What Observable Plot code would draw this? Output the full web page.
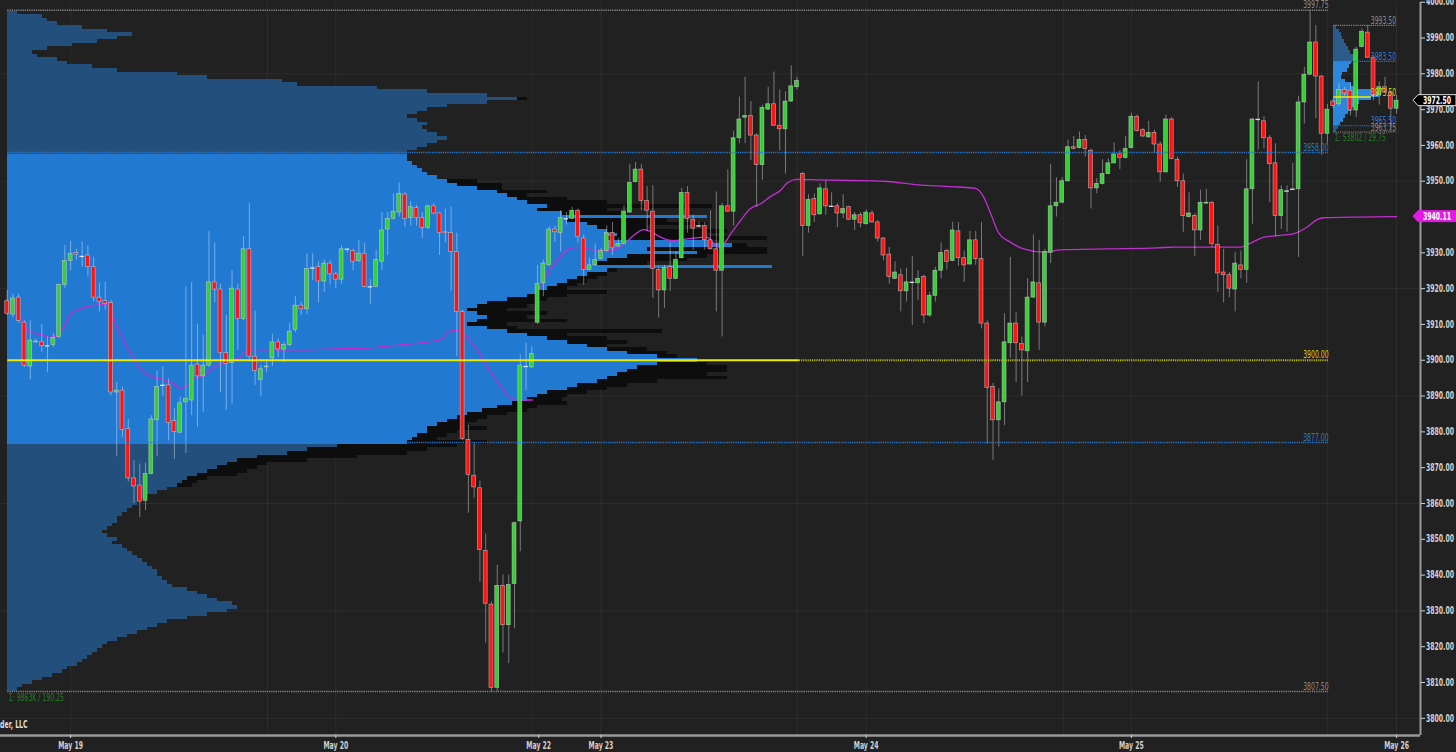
<!DOCTYPE html>
<html><head><meta charset="utf-8">
<script src="https://cdn.jsdelivr.net/npm/d3@7"></script>
<script src="https://cdn.jsdelivr.net/npm/@observablehq/plot@0.6"></script>
<style>
html,body{margin:0;padding:0;background:#212121;}
#chart{width:1456px;height:752px;overflow:hidden;}
</style></head><body><div id="chart"></div>
<script>
// ---- 30-minute candles (ES), index 0..241 ----
const openP = [3916.5,3912.75,3917.5,3910.5,3898.25,3905,3905,3904,3904.25,3906.5,3921,3927.75,3930,3929,3929.25,3926,3917.5,3916.5,3916,3891,3891.5,3880.75,3867,3865,3860.75,3868.25,3883.25,3893,3893,3883,3879.75,3888.25,3888.75,3898.75,3895.5,3898.5,3921.75,3919.75,3902,3899.25,3919.75,3911.5,3931,3901,3894.5,3898,3900.5,3905,3903,3904.25,3908.5,3915.25,3914.25,3925.75,3926,3922,3927,3924,3922.5,3931,3930.5,3927.75,3929.75,3920.5,3920.5,3927.5,3936.5,3939.5,3941.25,3946.25,3939.75,3942.5,3939.75,3937,3943,3941,3935.75,3935.5,3930.25,3913.5,3877.75,3867.75,3864.25,3846.75,3831.75,3808.5,3837,3826,3837.5,3855,3898.25,3898,3910.5,3921.5,3926.5,3936.5,3935.5,3939.5,3939.5,3941.75,3934,3925.25,3926.5,3928.25,3930.5,3935.5,3931.75,3932.5,3941.25,3949.75,3953.25,3944.5,3941.5,3925.25,3919.5,3926,3922.75,3928.5,3946.75,3939.25,3937.5,3937.5,3933.5,3931,3925,3943,3941.5,3962,3967.75,3968.25,3962.75,3954.5,3970,3971.5,3965.5,3964.5,3972.25,3976.25,3952,3937.5,3945,3940.75,3947.75,3943,3943,3941,3942.75,3939.25,3940.5,3938,3941,3938.5,3934,3929.5,3922.75,3923.75,3919.25,3921.75,3921.5,3923.25,3912.5,3918,3925,3930.5,3927.75,3936,3928.5,3926.75,3933.5,3928.25,3910.25,3892.5,3883.25,3888.25,3904.75,3910.25,3904.5,3902.5,3917.5,3921.5,3910.5,3930,3943,3944,3950,3959.5,3959.25,3961.5,3958.5,3948,3949.25,3952,3955,3957.5,3956.5,3959.25,3968,3964.25,3962.25,3963.5,3960.25,3952.5,3967.25,3956,3950,3940,3940.25,3936.25,3943.75,3944,3932.25,3924.5,3923.75,3919.75,3926.5,3925.25,3947.75,3967.25,3966.75,3962,3955,3940.25,3947.25,3947.75,3947.75,3972,3979.75,3988.75,3979.25,3963.25,3972.25,3971.5,3975.5,3975.25,3969.75,3987.5,3991.5,3984.5,3974,3976.25,3974.75,3970.25];
const highP = [3919.5,3918.5,3918.5,3911,3911,3906,3910,3906.5,3907.5,3921.25,3932,3933.25,3931,3933,3932,3928.75,3921.5,3921.75,3916.75,3893.75,3892.5,3883.5,3872,3871,3871.25,3884.5,3897,3898.25,3894.75,3886.5,3889.75,3920.5,3921.75,3910,3907,3936,3932.75,3921.25,3912.5,3925,3921.25,3934.5,3943.75,3913.75,3898.5,3900,3907.25,3906,3905,3910.25,3917.75,3916.25,3929.75,3929.75,3927.5,3928,3927.75,3924.5,3932,3931.25,3931,3933.5,3932.75,3922.5,3930.75,3941.25,3941.25,3946.5,3949.5,3946.75,3944.25,3943.25,3941.25,3943.25,3943.75,3941.25,3942.25,3942.75,3935.5,3914,3881.75,3877,3866.25,3851.5,3832.5,3842.75,3840,3840,3854.75,3901.5,3904.75,3903.75,3926.5,3928,3937.25,3937.5,3941.75,3941.25,3942.75,3942.25,3935,3928.5,3932.5,3931.25,3937.5,3938.5,3934,3943.25,3954.75,3955.25,3954.75,3948.5,3948.75,3926,3926.5,3932.75,3930.25,3948,3948.5,3940.5,3938.5,3938.5,3941.75,3947,3943.75,3953.25,3964,3973.5,3979,3972.25,3963.25,3971.25,3976.25,3980.5,3975.5,3975,3982.25,3979,3952.5,3946.25,3946.5,3949.25,3950,3946.75,3943.75,3946.25,3943,3941.25,3941.25,3942,3941.75,3939,3934.25,3931.5,3927.5,3925.5,3925.75,3929,3925,3923.75,3919,3926,3932.75,3931,3938.5,3938.5,3930.5,3936,3936,3938.5,3911,3893.5,3892,3913,3928.75,3913.25,3906.5,3922.75,3935,3933.5,3931,3954.75,3951,3951,3961.5,3962.5,3963.75,3962.75,3959,3950.75,3956,3956.25,3960.75,3958.5,3962.5,3969,3968.5,3964.75,3966.75,3964.25,3961,3968.5,3967.75,3956.75,3952,3946.75,3941,3947.5,3947.75,3944.25,3937.5,3931,3924.5,3930,3930.5,3956,3967.5,3977.75,3968,3962.75,3960.5,3948.75,3948.75,3955,3973.75,3981.75,3997.75,3993.5,3979.5,3971.5,3973,3977.25,3976.25,3977.25,3987.5,3992.5,3993.5,3984.75,3977.75,3979,3975.25,3974];
const lowP = [3912.5,3912,3910.25,3898,3894.5,3904.75,3902.25,3896.5,3903.5,3906,3920,3925,3928,3926,3923.25,3916.25,3913.5,3914,3890,3873,3878.5,3866,3860,3856,3858,3868,3873,3890,3877.5,3872.25,3879.5,3874,3884.5,3881.25,3885.5,3898,3916,3891,3886,3887.75,3902.75,3911,3900.25,3893,3889.75,3896.5,3898.25,3900.75,3899.25,3903.75,3907.75,3912.5,3912.75,3922.25,3916,3919,3921,3920,3921.25,3930,3925,3927.25,3920.25,3915.5,3920.25,3925,3929.25,3939.25,3940,3937,3937.5,3937.5,3934,3936.5,3940.75,3929.25,3932.75,3919.25,3901,3877.5,3857.25,3861.5,3838,3821,3807.5,3807.5,3818.25,3815.25,3825,3846.5,3891.5,3897.75,3910,3917.75,3926.25,3933,3930.25,3937.75,3939.25,3932.75,3921,3925,3926.25,3928,3930.25,3929.25,3931.5,3932.25,3941,3949.5,3941.75,3936,3917.25,3911.75,3914.5,3919.25,3922.5,3928.25,3935.5,3930.75,3937,3930.75,3930.75,3913.5,3906.5,3941.25,3937.5,3960.5,3960.5,3955.75,3942.75,3950.25,3969.75,3965.25,3958.5,3952,3972,3975.5,3929,3935.5,3938.5,3940.5,3940.5,3942.75,3937,3939.5,3939,3936.25,3937,3937.75,3938.25,3933,3927.75,3921.25,3922.5,3913.5,3916.25,3909.75,3916.75,3910.25,3912,3916.25,3922.75,3925.25,3927.5,3926.25,3921.75,3926.5,3926.5,3908.75,3876.5,3872,3875.75,3881.75,3900.5,3893.75,3890,3893.75,3917.25,3902.75,3909.25,3927,3940,3943.75,3949.75,3958.75,3959,3956.75,3942.25,3946.5,3949,3951.75,3954.75,3953.25,3956.25,3959,3963.75,3962.25,3962,3957.75,3949.75,3952.25,3956,3948.25,3935.75,3939.75,3929,3933.5,3943.5,3931.5,3919,3916,3917.5,3913.5,3922.75,3921.5,3938,3958.75,3959,3944,3934.5,3936.5,3935.75,3947.5,3928.75,3966,3979.5,3967.5,3957.25,3960.5,3970.25,3971,3973.75,3968.25,3967.75,3987.25,3984.25,3972.5,3971.25,3974.5,3963.75,3968.75];
const closeP = [3913,3917.25,3911,3898.5,3905.5,3905.25,3904,3904,3906.25,3921,3927.75,3929.75,3929.5,3929,3926,3917.5,3916.25,3915.75,3891,3891.5,3880.5,3867,3864.75,3860.5,3868.25,3883.5,3892.5,3893,3882.5,3880,3888,3889.25,3898.5,3895.5,3898.5,3921.75,3919.75,3902,3899,3920,3911.5,3931,3901,3897,3897.5,3898.25,3905,3903,3904.25,3908,3915.25,3914.25,3925.5,3925.75,3922,3927,3924,3922.5,3931,3931,3927.5,3929.75,3920.5,3920.5,3928,3936.25,3939.5,3941.5,3946.5,3939.5,3942.75,3939.75,3937,3943,3941,3935.5,3935.5,3930.25,3913.5,3878,3868,3864.5,3847,3832,3808.5,3837,3826,3837.25,3854.5,3898.5,3898.25,3901.75,3921.25,3927,3936.5,3935.75,3939.75,3939.5,3941.75,3934.5,3925.25,3926.5,3928,3930.5,3935.5,3931.25,3932.5,3941.5,3949.5,3953.25,3944.5,3941.75,3925.5,3919.5,3925.75,3922.75,3928,3946.75,3939.5,3936.75,3937.5,3933.5,3931,3925,3943,3941.5,3962,3967.25,3968.25,3962.75,3954.5,3970.5,3971.5,3965.5,3964.5,3972.25,3976.5,3978,3937.5,3944.75,3940.5,3948,3943,3943,3941,3942.25,3939.25,3940.5,3938.25,3941.25,3938.5,3934,3929.25,3923.25,3924.5,3919.25,3921.75,3921.75,3922.75,3912.5,3918,3925,3930,3927.5,3936.25,3928.5,3926.5,3933.5,3928.25,3910.25,3892.25,3883.25,3888.25,3905,3910.25,3904.75,3902.75,3917.5,3921.75,3910.5,3930.25,3943,3944,3950,3959.5,3959,3961.5,3959,3948,3949.25,3952,3955,3957.5,3956.5,3959,3968,3964,3962.5,3963.5,3960.25,3952.5,3967.25,3956.25,3950,3940.25,3941,3936.25,3944,3944,3932.5,3924.25,3923.75,3920,3927,3925.25,3947.75,3967.25,3967.25,3962,3954.75,3940.25,3947.5,3947.25,3947.75,3972,3979.75,3988.75,3979.25,3963.25,3970,3971,3975.5,3974.5,3969.75,3986.75,3991.75,3984.5,3974,3976.25,3974.75,3970.25,3972.5];

// ---- session VWAP (bar index, price); NaN = session reset ----
const vwapIdx = [1.1,2.3,3.2,4.0,5.8,7.5,8.7,9.8,11.0,12.7,15.0,16.8,17.9,18.8,20.2,22.0,23.1,25.4,27.2,28.3,30.1,31.2,32.4,34.1,35.8,38.2,40.5,41.9,45.1,50.9,56.7,61.3,68.2,75.2,76.3,77.8,79.2,81.5,83.3,85.0,86.7,88.5,91.1,91.6,
  92.5,93.7,96.0,97.7,99.4,101.8,104.1,106.4,108.1,110.4,111.6,113.3,115.6,118.0,121.4,122.6,123.2,124.0,125.5,127.2,128.9,130.7,132.4,134.1,135.3,137.0,140.5,146.3,152.1,157.9,163.6,168.0,169.4,170.6,172.0,174.0,176.3,179.8,182.7,190.8,199.5,202.4,214.0,215.7,218.0,220.3,223.1,225.5,227.2,228.4,234.2,239.9,241];
const vwapVal = [3915.3,3912.0,3909.2,3907.8,3907.2,3906.4,3906.9,3909.2,3913.0,3914.4,3915.3,3915.5,3914.8,3910.2,3905.5,3900.4,3897.6,3895.3,3894.5,3893.9,3892.2,3893.0,3894.8,3895.7,3898.0,3899.7,3901.0,3903.0,3902.9,3902.9,3903.2,3903.3,3904.3,3905.75,3907.7,3908.4,3907.2,3902.9,3898.1,3894.2,3890.4,3888.9,3888.9,NaN,
  3920.2,3924.1,3928.9,3931.3,3931.5,3930.8,3930.6,3931.75,3934.1,3936.5,3936.0,3934.4,3933.4,3933.9,3934.4,3932.5,3931.6,3932.0,3935.3,3939.0,3942.3,3943.7,3945.7,3947.4,3949.5,3950.5,3950.4,3950.2,3950.0,3949.0,3948.5,3948.0,3945.5,3940.9,3935.5,3933.0,3931.1,3930.2,3930.8,3931.1,3931.4,3931.6,3931.6,3932.7,3934.4,3934.8,3935.3,3937.2,3939.3,3939.8,3940.0,3940.1,3940.11];

// ---- composite volume profile, 1-point rows from 3808 to 3997 (K contracts) ----
const profileStart = 3808;
const profileVol = [
  2,3,5,7,9,11,12,14,15,16, 17,18,19,20,22,24,26,28,30,32, 36,40,44,46,45,42,40,38,36,33,
  32,31,30,30,29,28,27,26,25,24, 23,21,22,20,19,20,21,22,22,23, 24,25,26,27,28,30,32,34,35,36,
  38,40,42,44,46,50,56,60,66,80, 81,82,84,84,86,88,90,92,95,98, 101,104,106,108,112,114,118,120,122,124,
  126,130,138,130,124,120,116,112,108,104, 100,96,92,94,96,94,92,94,96,100, 104,106,108,110,112,114,116,120,153,118,
  120,124,138,128,145,141,120,122,120,118, 116,112,140,111,106,108,104,102,100,98, 94,90,88,86,84,83,82,81,80,80,
  80,82,84,86,88,86,84,83,84,82, 80,82,84,88,96,102,96,84,74,58, 55,40,34,22,17,12,10,6,5,8,
  13,18,22,25,20,15,10,8,7,2];
// second (darker) profile series drawn behind the main one
const shadowVol = [
  0,0,0,0,0,0,0,0,0,0, 0,0,0,0,0,0,0,0,0,0, 0,0,0,0,0,0,0,0,0,0,
  0,0,0,0,0,0,0,0,0,0, 0,0,0,0,0,0,0,0,0,0, 0,0,0,0,0,0,0,37,38,40,
  46,48,50,52,60,70,80,84,90,96, 86,88,90,96,92,94,96,100,104,106, 112,111,112,116,120,124,130,144,140,144,
  144,140,0,134,132,128,120,124,120,112, 131,102,100,112,104,108,100,104,106,108, 112,120,112,114,116,118,120,122,0,128,
  136,140,152,152,148,0,152,140,144,128, 140,132,0,124,120,141,120,112,104,108, 99,99,94,0,0,0,0,0,0,0,
  0,0,0,0,0,0,0,0,0,0, 0,0,0,0,0,104,0,0,0,0, 0,0,0,0,0,0,0,0,0,0,
  0,0,0,0,0,0,0,0,0,0];
const vaLow = 3877, vaHigh = 3958, pocPrice = 3900, profHigh = 3997.75, profLow = 3807.5;

// ---- current session profile (May 26), 1-point rows from 3964 to 3993 (contracts) ----
const sessStart = 3964;
const sessVol = [330,550,770,1100,1320,1650,1980,2420,2860,4180,5060,4400,2640,1980,1320,880,990,1540,1760,1980,2640,2420,1870,1650,1430,1210,990,880,660,330];
const sessVaLow = 3965.5, sessVaHigh = 3983.5, sessPoc = 3973.5, sessHigh = 3993.5, sessLow = 3963.75;

// ---- axes ----
const priceTicks = [3800,3810,3820,3830,3840,3850,3860,3870,3880,3890,3900,3910,3920,3930,3940,3950,3960,3970,3980,3990,4000];
const gridPrices = [3800,3830,3860,3890,3920,3950,3980];
const dateLabels = ["May 19","May 20","May 22","May 23","May 24","May 25","May 26"];
const dateIdx = [11,57,92.2,103,149,195,241];
const gridIdx = [11,45.15,57,91.07,103,137,149,183.2,195,229,241];
const lastClose = 3972.50, lastVwap = 3940.11;

// ---- layout constants ----
const W = 1456, H = 752, mR = 36, mB = 17, mT = 1.7;
const xDomain = [-1.162, 245.15], yDomain = [3795.2, 4000];
const pxPerIdx = (W - mR) / (xDomain[1] - xDomain[0]);
const profX0 = 0.104, levelX2 = 229.2, sessX0 = 230.11, sessX2 = 240.92, yellowSolidEnd = 137.4;
const pxPerK = 5, pxPerContract = 1/110;

const candles = openP.map((o, i) => ({i, o, h: highP[i], l: lowP[i], c: closeP[i]}));
const bodies = candles.filter(d => d.o !== d.c);
const dojis = candles.filter(d => d.o === d.c);
const prof = profileVol.map((v, k) => ({p: profileStart + k, v, s: shadowVol[k]}));
const sess = sessVol.map((v, k) => ({p: sessStart + k, v}));
const vwap = vwapIdx.map((x, k) => ({x, y: vwapVal[k]}));

const mainLevels = [
  {p: profHigh, t: "3997.75", c: "#8a8a8a"},
  {p: vaHigh, t: "3958.00", c: "#2c7ad0"},
  {p: pocPrice, t: "3900.00", c: "#d4d400"},
  {p: vaLow, t: "3877.00", c: "#2c7ad0"},
  {p: profLow, t: "3807.50", c: "#8a8a8a"}];
const sessLevels = [
  {p: sessHigh, t: "3993.50", c: "#8a8a8a"},
  {p: sessVaHigh, t: "3983.50", c: "#2c7ad0"},
  {p: sessPoc, t: "3973.50", c: "#d4d400"},
  {p: sessVaLow, t: "3965.50", c: "#2c7ad0"},
  {p: sessLow, t: "3963.75", c: "#8a8a8a"}];

const font = "'Liberation Sans Narrow','Arial Narrow','DejaVu Sans Condensed',sans-serif";
const fmt = d3.format(".2f");
const labelMap = new Map(dateIdx.map((d, i) => [d, dateLabels[i]]));

const chart = Plot.plot({
  width: W, height: H, marginLeft: 0, marginRight: mR, marginTop: mT, marginBottom: mB,
  x: {domain: xDomain, axis: null},
  y: {domain: yDomain, axis: null},
  style: {background: "#212121", fontFamily: font, fontSize: "10px", color: "#cfcfcf", overflow: "hidden"},
  marks: [
    // grid
    Plot.ruleY(gridPrices, {x1: xDomain[0], x2: xDomain[1], stroke: "#ffffff", strokeOpacity: 0.055}),
    Plot.ruleX(gridIdx, {stroke: "#ffffff", strokeOpacity: 0.055}),
    // composite profile
    Plot.rect(prof.filter(d => d.s > 0), {x1: profX0, x2: d => profX0 + d.s * pxPerK / pxPerIdx, y1: d => d.p - 0.5, y2: d => d.p + 0.5, fill: "#0d0d0d", shapeRendering: "crispEdges"}),
    Plot.rect(prof, {x1: profX0, x2: d => profX0 + d.v * pxPerK / pxPerIdx, y1: d => d.p - 0.5, y2: d => d.p + 0.5,
      fill: d => (d.p >= vaLow && d.p < vaHigh) ? "#2179d2" : "#224f7b", shapeRendering: "crispEdges"}),
    // session profile
    Plot.rect(sess, {x1: sessX0, x2: d => sessX0 + d.v * pxPerContract / pxPerIdx, y1: d => d.p - 0.5, y2: d => d.p + 0.5,
      fill: d => (d.p > sessVaLow && d.p < sessVaHigh) ? "#2b86dc" : "#2a5b8a", shapeRendering: "crispEdges"}),
    // vwap
    Plot.line(vwap, {x: "x", y: "y", stroke: "#c22fd0", strokeWidth: 1.3, curve: "monotone-x"}),
    // candles
    Plot.ruleX(candles, {x: "i", y1: "l", y2: "h", stroke: "#ffffff", strokeOpacity: 0.4, strokeWidth: 1}),
    Plot.rect(bodies, {x1: d => d.i - 0.34, x2: d => d.i + 0.34, y1: "o", y2: "c",
      fill: d => d.c > d.o ? "#33d133" : "#ff1212", stroke: "#d0d0d0", strokeOpacity: 0.7, strokeWidth: 0.7}),
    Plot.ruleY(dojis, {y: "o", x1: d => d.i - 0.4, x2: d => d.i + 0.4, stroke: "#e0e0e0", strokeWidth: 1.3}),
    // main profile levels
    Plot.ruleY(mainLevels.filter(d => d.p !== pocPrice), {y: "p", x1: profX0, x2: levelX2, stroke: "c", strokeWidth: 1.5, strokeDasharray: "1.2,1"}),
    Plot.ruleY([pocPrice], {x1: profX0, x2: yellowSolidEnd, stroke: "#ecec00", strokeWidth: 2}),
    Plot.ruleY([pocPrice], {x1: yellowSolidEnd, x2: levelX2, stroke: "#b8b810", strokeWidth: 2, strokeDasharray: "1.2,1"}),
    Plot.text(mainLevels, {x: levelX2, y: "p", text: "t", fill: "c", textAnchor: "end", dy: -5, fontSize: 10}),
    // session levels
    Plot.ruleY(sessLevels.filter(d => d.p !== sessPoc), {y: "p", x1: sessX0, x2: sessX2, stroke: "c", strokeWidth: 1.2, strokeDasharray: "1.2,1"}),
    Plot.ruleY([sessPoc], {x1: sessX0, x2: sessX0 + 6.5, stroke: "#ecec00", strokeWidth: 1.5}),
    Plot.text(sessLevels, {x: sessX2, y: "p", text: "t", fill: "c", textAnchor: "end", dy: -4.5, fontSize: 10}),
    // totals
    Plot.text([profLow], {x: profX0, y: d => d, text: () => "Σ: 9863K / 190.25", fill: "#1f7f1f", textAnchor: "start", dx: 1, dy: 6, fontSize: 10}),
    Plot.text([sessLow], {x: sessX0, y: d => d, text: () => "Σ: 53802 / 29.75", fill: "#1f7f1f", textAnchor: "start", dx: 1, dy: 5.5, fontSize: 10}),
    // copyright
    Plot.text(["© 2022 NinjaTrader, LLC"], {frameAnchor: "bottom-left", dx: 27, dy: -8, textAnchor: "end", fill: "#dddddd", fontSize: 10, fontWeight: "bold"}),
    // axes
    Plot.ruleX([xDomain[1]], {stroke: "#9a9a9a", strokeWidth: 2}),
    Plot.ruleY([yDomain[0]], {x1: xDomain[0], x2: xDomain[1], stroke: "#9a9a9a", strokeWidth: 2.5}),
    Plot.axisY(priceTicks, {anchor: "right", tickSize: 4, tickPadding: 1.5, tickFormat: fmt, color: "#d2d2d2", fontSize: 10, fontWeight: "bold"}),
    Plot.axisX(dateIdx, {anchor: "bottom", tickSize: 3, tickPadding: 3, tickFormat: d => labelMap.get(d), color: "#cfcfcf", fontSize: 10, fontWeight: "bold"})
  ]
});

// price tags on the right axis, positioned with the plot's own y scale
const ys = chart.scale("y");
const svg = d3.select(chart);
function tag(value, fill, stroke, txt) {
  const y = ys.apply(value);
  const g = svg.append("g");
  g.append("path").attr("d", `M1413,${y} L1418,${y-5.5} L1456,${y-5.5} L1456,${y+5.5} L1418,${y+5.5} Z`)
    .attr("fill", fill).attr("stroke", stroke).attr("stroke-width", 1);
  g.append("text").attr("x", 1437).attr("y", y).attr("dy", "0.35em").attr("text-anchor", "middle")
    .attr("fill", txt).attr("font-size", 10).attr("font-weight", "bold").attr("font-family", font).text(fmt(value));
}
tag(lastVwap, "#e21be2", "#e21be2", "#ffffff");
tag(lastClose, "#000000", "#e0e0e0", "#ffffff");

document.getElementById("chart").appendChild(chart);

// narrow the installed condensed face to the chart's narrow lettering:
// the factor makes a price label ("3990.00") about 28px wide, as in the chart
let factor = 0.8;
const sample = [...chart.querySelectorAll("text")].find(t => t.textContent === "3990.00");
if (sample && sample.getComputedTextLength() > 0) factor = Math.min(1, 28 / sample.getComputedTextLength());
chart.querySelectorAll("text").forEach(t => {
  const len = t.getComputedTextLength();
  if (len > 0) { t.setAttribute("textLength", (len * factor).toFixed(1)); t.setAttribute("lengthAdjust", "spacingAndGlyphs"); }
});
</script>
</body></html>
